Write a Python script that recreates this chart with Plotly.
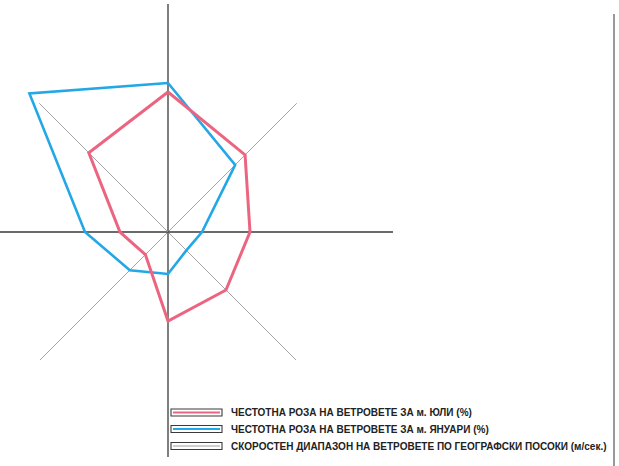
import numpy as np
import plotly.graph_objects as go

# ---- data ----
directions = ["С", "СИ", "И", "ЮИ", "Ю", "ЮЗ", "З", "СЗ"]
angles_deg = [0, 45, 90, 135, 180, 225, 270, 315]
july_freq = [140, 109, 82, 82, 89, 32, 48, 112]
january_freq = [149, 95, 34, 26, 42, 54, 83, 196]
ray_length = [228, 182, 225, 181, 225, 181, 170, 182]

legend_labels = [
    "ЧЕСТОТНА РОЗА НА ВЕТРОВЕТЕ ЗА м. ЮЛИ (%)",
    "ЧЕСТОТНА РОЗА НА ВЕТРОВЕТЕ ЗА м. ЯНУАРИ (%)",
    "СКОРОСТЕН ДИАПАЗОН НА ВЕТРОВЕТЕ ПО ГЕОГРАФСКИ ПОСОКИ (м/сек.)",
]

RED = "#EC6580"
BLUE = "#22A8E6"

W, H = 619, 466
CX, CY = 168, 232  # rose centre in pixels


def to_xy(r, a):
    t = np.radians(np.asarray(a, dtype=float))
    r = np.asarray(r, dtype=float)
    return r * np.sin(t), r * np.cos(t)


fig = go.Figure()

# axis rays
for r, a in zip(ray_length, angles_deg):
    x, y = to_xy([0, r], [a, a])
    main = a % 90 == 0
    fig.add_trace(go.Scatter(
        x=x, y=y, mode="lines", hoverinfo="skip", showlegend=False,
        line=dict(color="#3a3a3a" if main else "#9a9a9a", width=1.3 if main else 0.9),
    ))

# roses
for vals, col, wd, name in [(january_freq, BLUE, 2.6, legend_labels[1]),
                            (july_freq, RED, 3.0, legend_labels[0])]:
    x, y = to_xy(vals + vals[:1], angles_deg + angles_deg[:1])
    fig.add_trace(go.Scatter(
        x=x, y=y, mode="lines", name=name, showlegend=False,
        text=directions + directions[:1], hovertemplate="%{text}<extra></extra>",
        line=dict(color=col, width=wd),
    ))


def px_x(px):
    return px - CX


def px_y(py):
    return CY - py


shapes = []
annotations = []
rows_y = [412.5, 429, 446]
inner_cols = [RED, BLUE, "#cfcfcf"]
for yy, col, lab in zip(rows_y, inner_cols, legend_labels):
    shapes.append(dict(type="rect", xref="x", yref="y",
                       x0=px_x(171), x1=px_x(222), y0=px_y(yy - 3.5), y1=px_y(yy + 3.5),
                       line=dict(color="#3a3a3a", width=1.1), fillcolor="white", layer="above"))
    shapes.append(dict(type="line", xref="x", yref="y",
                       x0=px_x(173), x1=px_x(220), y0=px_y(yy), y1=px_y(yy),
                       line=dict(color=col, width=2), layer="above"))
    annotations.append(dict(x=px_x(229), y=px_y(yy), xref="x", yref="y",
                            text="<b>" + lab + "</b>", showarrow=False,
                            xanchor="left", yanchor="middle",
                            font=dict(family="Liberation Sans, Arial, sans-serif", size=10, color="#222")))

# right border line of the sheet
shapes.append(dict(type="line", xref="x", yref="y",
                   x0=px_x(614), x1=px_x(614), y0=px_y(14), y1=px_y(466),
                   line=dict(color="#555", width=1.2)))

fig.update_layout(
    width=W, height=H,
    margin=dict(l=0, r=0, t=0, b=0),
    paper_bgcolor="white", plot_bgcolor="white",
    xaxis=dict(range=[-CX, W - CX], visible=False, fixedrange=True),
    yaxis=dict(range=[CY - H, CY], visible=False, fixedrange=True),
    shapes=shapes, annotations=annotations,
    showlegend=False,
)

fig.write_html("out.html", config={"displayModeBar": False},
               post_script="document.body.style.margin='0';document.body.style.overflow='hidden';")
